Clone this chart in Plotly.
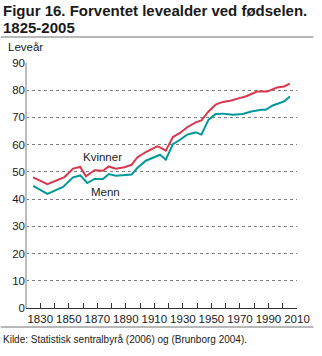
import plotly.graph_objects as go

years_k = [1825, 1835, 1847, 1853, 1858, 1862, 1868, 1874, 1878, 1883, 1889, 1894, 1898, 1904, 1912, 1914, 1918, 1923, 1928, 1933, 1939, 1943, 1948, 1953, 1958, 1964, 1969, 1974, 1978, 1982, 1989, 1996, 2001, 2005]
kvinner = [48.0, 45.5, 48.1, 51.2, 51.8, 48.4, 50.6, 50.4, 52.0, 51.2, 51.7, 52.6, 55.3, 57.3, 59.4, 59.0, 57.8, 62.8, 64.3, 66.4, 68.2, 68.9, 72.2, 74.7, 75.7, 76.2, 77.0, 77.7, 78.6, 79.5, 79.5, 81.0, 81.4, 82.4]

years_m = [1825, 1835, 1846, 1853, 1858, 1863, 1868, 1874, 1878, 1883, 1894, 1898, 1904, 1912, 1914, 1918, 1923, 1928, 1933, 1939, 1943, 1948, 1953, 1958, 1965, 1972, 1978, 1985, 1988, 1993, 1998, 2001, 2005]
menn = [44.9, 41.9, 44.5, 48.0, 48.7, 45.9, 47.4, 47.4, 49.2, 48.6, 49.0, 51.4, 54.1, 56.0, 56.3, 54.5, 60.2, 61.8, 63.7, 64.5, 63.7, 69.2, 71.3, 71.4, 71.0, 71.3, 72.2, 72.8, 72.8, 74.4, 75.5, 75.9, 77.7]

x_ticks = list(range(1830, 2011, 10))
x_labels = [str(y) if (y - 1830) % 20 == 0 else "" for y in x_ticks]
y_ticks = list(range(0, 91, 10))

W, H = 322, 356
ML, MR, MT, MB = 26, 17, 63, 48
PW, PH = W - ML - MR, H - MT - MB

def px(x):
    return (x - ML) / PW

def py(y):
    return (H - MB - y) / PH

FONT = "Liberation Sans, Arial, sans-serif"
RED = "#d7384e"
TEAL = "#00999b"

fig = go.Figure()
fig.add_trace(go.Scatter(x=years_k, y=kvinner, mode="lines", name="Kvinner",
                         line=dict(color=RED, width=2)))
fig.add_trace(go.Scatter(x=years_m, y=menn, mode="lines", name="Menn",
                         line=dict(color=TEAL, width=2)))

fig.update_layout(
    width=W, height=H,
    margin=dict(l=ML, r=MR, t=MT, b=MB, pad=0),
    paper_bgcolor="white", plot_bgcolor="white",
    showlegend=False,
    font=dict(family=FONT, size=11, color="#1a1a1a"),
    xaxis=dict(range=[1820, 2010], tickvals=x_ticks, ticktext=x_labels,
               ticks="inside", ticklen=5, tickcolor="#333333", tickwidth=1,
               showgrid=False, zeroline=False, showline=True,
               linecolor="#333333", linewidth=1,
               tickfont=dict(size=11.5, family=FONT, color="#1a1a1a")),
    yaxis=dict(range=[0, 90], tickvals=y_ticks, ticks="",
               showgrid=True, gridcolor="#808080", griddash="dot", gridwidth=1,
               zeroline=False, showline=False,
               tickfont=dict(size=11.5, family=FONT, color="#1a1a1a")),
)

# left axis line (light grey)
fig.add_shape(type="line", xref="paper", yref="paper", x0=0, x1=0, y0=0, y1=1,
              line=dict(color="#bdbdbd", width=2))
# separator lines
fig.add_shape(type="line", xref="paper", yref="paper", x0=px(0), x1=px(322),
              y0=py(37), y1=py(37), line=dict(color="#a0a0a0", width=1.5))
fig.add_shape(type="line", xref="paper", yref="paper", x0=px(0), x1=px(322),
              y0=py(327), y1=py(327), line=dict(color="#a0a0a0", width=1.5))

fig.add_annotation(text="<b>Figur 16. Forventet levealder ved fødselen.</b>",
                   xref="paper", yref="paper", x=px(0), y=py(0), xanchor="left",
                   yanchor="top", showarrow=False,
                   font=dict(size=15, family=FONT, color="#1a1a1a"))
fig.add_annotation(text="<b>1825-2005</b>",
                   xref="paper", yref="paper", x=px(0), y=py(17), xanchor="left",
                   yanchor="top", showarrow=False,
                   font=dict(size=15, family=FONT, color="#1a1a1a"))
fig.add_annotation(text="Leveår", xref="paper", yref="paper", x=px(5), y=py(39),
                   xanchor="left", yanchor="top", showarrow=False,
                   font=dict(size=11.5, family=FONT, color="#1a1a1a"))
fig.add_annotation(text="Kilde: Statistisk sentralbyrå (2006) og (Brunborg 2004).",
                   xref="paper", yref="paper", x=px(0), y=py(332), xanchor="left",
                   yanchor="top", showarrow=False,
                   font=dict(size=10, family=FONT, color="#1a1a1a"))
fig.add_annotation(text="Kvinner", x=1873.5, y=55.5, showarrow=False,
                   font=dict(size=11.5, family=FONT, color="#1a1a1a"))
fig.add_annotation(text="Menn", x=1876, y=42.6, showarrow=False,
                   font=dict(size=11.5, family=FONT, color="#1a1a1a"))

fig.write_html("out.html")
